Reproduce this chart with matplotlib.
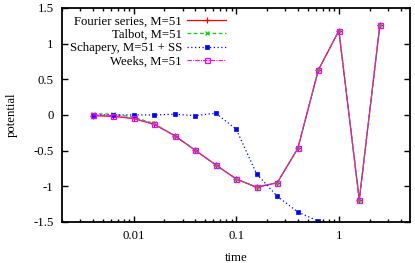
import numpy as np
import matplotlib
matplotlib.use('Agg')
import matplotlib.pyplot as plt
from matplotlib.ticker import LogLocator, FixedLocator, NullLocator

plt.rcParams['font.family'] = ['Liberation Serif', 'DejaVu Serif']
plt.rcParams['font.size'] = 9.2

# time samples
t = [0.00398, 0.00631, 0.01, 0.0158, 0.0251, 0.0398, 0.0631, 0.1,
     0.158, 0.251, 0.398, 0.631, 1.0, 1.58, 2.51]

fourier = [-0.01, -0.02, -0.05, -0.13, -0.29, -0.495, -0.70, -0.897,
           -1.014, -0.95, -0.47, 0.63, 1.18, -1.19, 1.266]
talbot = [0.02, 0.01, -0.03, -0.12, -0.29, -0.495, -0.70, -0.897,
          -1.014, -0.95, -0.47, 0.63, 1.18, -1.19, 1.266]
weeks = [0.0, -0.01, -0.05, -0.13, -0.29, -0.495, -0.70, -0.897,
         -1.014, -0.95, -0.47, 0.63, 1.18, -1.19, 1.266]

t_ss = t[:12]
schapery = [0.0, 0.0, 0.0, 0.0, 0.01, -0.01, 0.024, -0.2,
            -0.827, -1.14, -1.36, -1.49]

fig = plt.figure(figsize=(4.15, 2.63), dpi=100)
ax = fig.add_axes([0.149, 0.156, 0.839, 0.814])

ax.plot(t, fourier, color='#ff0000', lw=0.9, ls='-', marker='+', ms=4,
        mew=0.9, label='Fourier series, M=51')
ax.plot(t, talbot, color='#00dd00', lw=0.9, ls=(0, (3, 2)), marker='x', ms=3,
        mew=0.9, label='Talbot, M=51')
ax.plot(t_ss, schapery, color='#0000ff', lw=0.9, ls=(0, (1, 2)), marker='s',
        ms=2.8, mew=0.5, label='Schapery, M=51 + SS')
ax.plot(t, weeks, color='#ff00ff', lw=0.8, ls=(0, (4, 1, 1, 1)), marker='s',
        ms=3.6, mfc='none', mew=0.9, label='Weeks, M=51')

ax.set_xscale('log')
ax.set_xlim(0.002, 4.93)
ax.set_ylim(-1.5, 1.5)
ax.yaxis.set_major_locator(FixedLocator([-1.5, -1, -0.5, 0, 0.5, 1, 1.5]))
ax.set_yticklabels(['-1.5', '-1', '-0.5', '0', '0.5', '1', '1.5'])
ax.yaxis.set_minor_locator(NullLocator())
ax.xaxis.set_major_locator(FixedLocator([0.01, 0.1, 1]))
ax.set_xticklabels(['0.01', '0.1', '1'])
ax.xaxis.set_minor_locator(LogLocator(base=10, subs=np.arange(2, 10)))

ax.tick_params(which='both', direction='in', top=True, right=True, width=1.0)
ax.tick_params(which='major', length=4, pad=6)
ax.tick_params(which='minor', length=2.5)
ax.tick_params(axis='x', which='minor', labelbottom=False)
for s in ax.spines.values():
    s.set_linewidth(1.3)

ax.set_xlabel('time', labelpad=7)
ax.set_ylabel('potential', labelpad=11)

ax.legend(loc='upper left', markerfirst=False, frameon=False, handlelength=3.1,
          labelspacing=0.1, handletextpad=0.4, borderaxespad=0.2,
          bbox_to_anchor=(0.0, 1.0), fontsize=9.2)

fig.savefig('out.png', dpi=100)
